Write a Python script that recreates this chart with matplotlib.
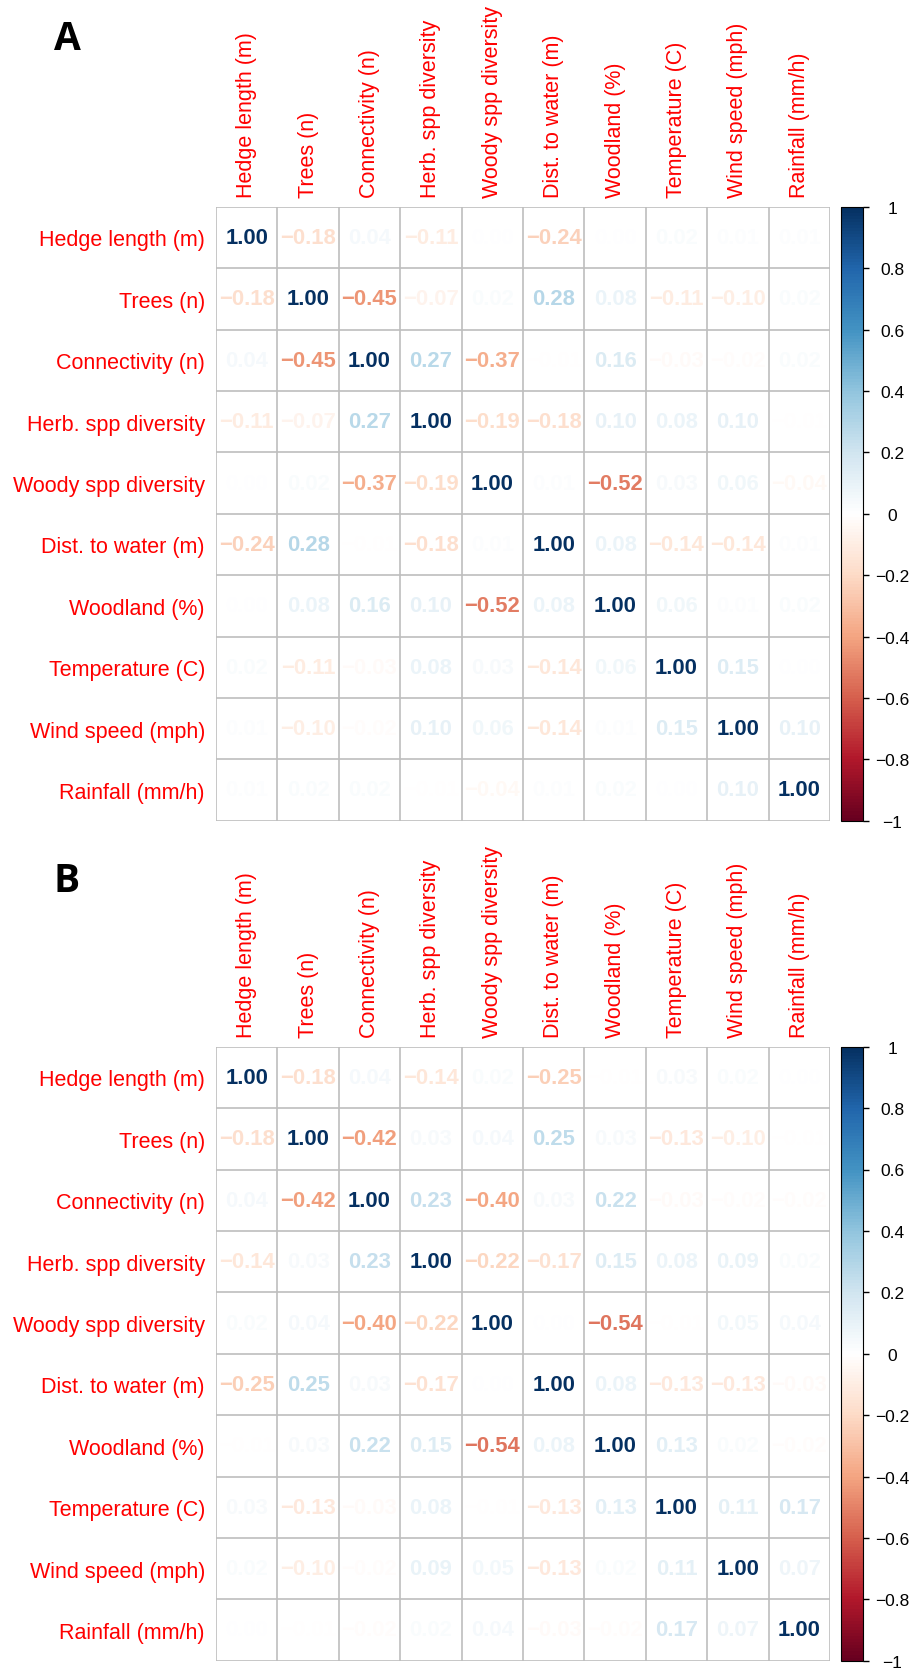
import numpy as np
import matplotlib
matplotlib.use('Agg')
import matplotlib.pyplot as plt
from matplotlib.cm import ScalarMappable
from matplotlib.colors import Normalize, LinearSegmentedColormap

plt.rcParams['font.family'] = ['Liberation Sans', 'DejaVu Sans']

# variable names
labels = ['Hedge length (m)', 'Trees (n)', 'Connectivity (n)', 'Herb. spp diversity',
          'Woody spp diversity', 'Dist. to water (m)', 'Woodland (%)', 'Temperature (C)',
          'Wind speed (mph)', 'Rainfall (mm/h)']

# correlation matrix, panel A
corr_a = [
    [1.00, -0.18, 0.04, -0.11, 0.00, -0.24, 0.00, 0.02, 0.01, 0.01],
    [-0.18, 1.00, -0.45, -0.07, 0.02, 0.28, 0.08, -0.11, -0.10, 0.02],
    [0.04, -0.45, 1.00, 0.27, -0.37, -0.01, 0.16, -0.03, -0.02, 0.02],
    [-0.11, -0.07, 0.27, 1.00, -0.19, -0.18, 0.10, 0.08, 0.10, -0.01],
    [0.00, 0.02, -0.37, -0.19, 1.00, 0.01, -0.52, 0.03, 0.06, -0.04],
    [-0.24, 0.28, -0.01, -0.18, 0.01, 1.00, 0.08, -0.14, -0.14, 0.01],
    [0.00, 0.08, 0.16, 0.10, -0.52, 0.08, 1.00, 0.06, 0.01, 0.02],
    [0.02, -0.11, -0.03, 0.08, 0.03, -0.14, 0.06, 1.00, 0.15, 0.00],
    [0.01, -0.10, -0.02, 0.10, 0.06, -0.14, 0.01, 0.15, 1.00, 0.10],
    [0.01, 0.02, 0.02, -0.01, -0.04, 0.01, 0.02, 0.00, 0.10, 1.00],
]

# correlation matrix, panel B
corr_b = [
    [1.00, -0.18, 0.04, -0.14, 0.02, -0.25, -0.01, 0.03, 0.02, 0.00],
    [-0.18, 1.00, -0.42, 0.03, 0.04, 0.25, 0.03, -0.13, -0.10, -0.01],
    [0.04, -0.42, 1.00, 0.23, -0.40, 0.03, 0.22, -0.03, -0.02, -0.02],
    [-0.14, 0.03, 0.23, 1.00, -0.22, -0.17, 0.15, 0.08, 0.09, 0.02],
    [0.02, 0.04, -0.40, -0.22, 1.00, 0.00, -0.54, -0.01, 0.05, 0.04],
    [-0.25, 0.25, 0.03, -0.17, 0.00, 1.00, 0.08, -0.13, -0.13, -0.03],
    [-0.01, 0.03, 0.22, 0.15, -0.54, 0.08, 1.00, 0.13, 0.02, -0.02],
    [0.03, -0.13, -0.03, 0.08, -0.01, -0.13, 0.13, 1.00, 0.11, 0.17],
    [0.02, -0.10, -0.02, 0.09, 0.05, -0.13, 0.02, 0.11, 1.00, 0.07],
    [0.00, -0.01, -0.02, 0.02, 0.04, -0.03, -0.02, 0.17, 0.07, 1.00],
]

cb_ticks = [1, 0.8, 0.6, 0.4, 0.2, 0, -0.2, -0.4, -0.6, -0.8, -1]

# RdBu palette with a pure white middle
pal = ['#67001F', '#B2182B', '#D6604D', '#F4A582', '#FDDBC7', '#FFFFFF',
       '#D1E5F0', '#92C5DE', '#4393C3', '#2166AC', '#053061']

W, H = 912, 1674
fig = plt.figure(figsize=(W / 100, H / 100), dpi=100)
cmap = LinearSegmentedColormap.from_list('rdbu2', pal, N=200)
norm = Normalize(-1, 1)

def fmt(v):
    s = '%.2f' % v
    if s == '-0.00':
        s = '0.00'
    return s.replace('-', '\u2212')

def panel(corr, top, letter, letter_y):
    n = len(labels)
    left, size = 216, 614
    ax = fig.add_axes([left / W, 1 - (top + size) / H, size / W, size / H])
    ax.set_xlim(0, n)
    ax.set_ylim(n, 0)
    for s in ax.spines.values():
        s.set_visible(False)
    ax.hlines(np.arange(n + 1), 0, n, color='#BEBEBE', lw=1.2)
    ax.vlines(np.arange(n + 1), 0, n, color='#BEBEBE', lw=1.2)
    m = np.array(corr)
    for i in range(n):
        for j in range(n):
            v = m[i, j]
            ax.text(j + 0.5, i + 0.5, fmt(v), ha='center', va='center',
                    fontsize=15.8, fontweight='bold', color=cmap(norm(v)))
    ax.xaxis.tick_top()
    ax.set_xticks(np.arange(n) + 0.5)
    ax.set_xticklabels(labels, rotation=90, color='red', fontsize=15.5)
    ax.set_yticks(np.arange(n) + 0.5)
    ax.set_yticklabels(labels, color='red', fontsize=15.5)
    ax.tick_params(axis='x', length=0, pad=7)
    ax.tick_params(axis='y', length=0, pad=8)

    # colour bar
    cax = fig.add_axes([841 / W, 1 - (top + size) / H, 22 / W, size / H])
    cb = fig.colorbar(ScalarMappable(norm=norm, cmap=cmap), cax=cax)
    cb.outline.set_linewidth(0.8)
    cb.set_ticks(cb_ticks)
    cb.set_ticklabels([('%g' % t).replace('-', '\u2212') for t in cb_ticks])
    cax.tick_params(length=4, width=1, pad=17, labelsize=12.5)
    for t in cax.get_yticklabels():
        t.set_ha('center')

    fig.text(67 / W, 1 - letter_y / H, letter, fontsize=28, fontweight='bold',
             ha='center', va='center', family=['Open Sans', 'DejaVu Sans'])

panel(corr_a, 207.7, 'A', 40)
panel(corr_b, 1047.7, 'B', 882)

plt.savefig('out.png', dpi=100)
